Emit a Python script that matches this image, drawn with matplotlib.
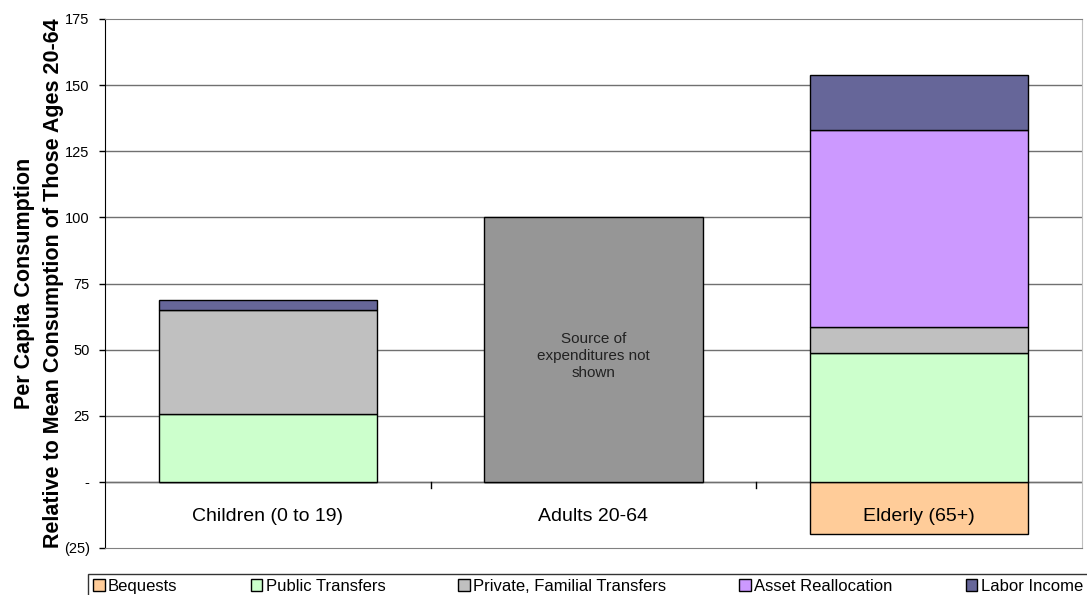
import numpy as np
import matplotlib
matplotlib.use("Agg")
from matplotlib import pyplot as plt
from matplotlib.patches import Patch

plt.rcParams['font.family'] = ['Liberation Sans', 'DejaVu Sans']

# Data (per capita consumption relative to mean consumption of ages 20-64)
groups = ["Children (0 to 19)", "Adults 20-64", "Elderly (65+)"]
series = ["Bequests", "Public Transfers", "Private, Familial Transfers",
          "Asset Reallocation", "Labor Income"]
bequests = [0, 0, -19.7]
public = [25.8, 0, 48.9]
private = [39.0, 0, 9.8]
assets = [0, 0, 74.3]
labor = [4.1, 0, 20.8]
adults_total = [0, 100, 0]

colors = ['#FFCC99', '#CCFFCC', '#C0C0C0', '#CC99FF', '#666699']
yticks = [-25, 0, 25, 50, 75, 100, 125, 150, 175]
yticklabels = ["(25)", "-", "25", "50", "75", "100", "125", "150", "175"]

fig = plt.figure(figsize=(10.87, 5.95), dpi=100)
ax = fig.add_axes([105 / 1087, 1 - 548 / 595, 977 / 1087, 529 / 595])

x = np.arange(len(groups))
w = 0.67
ec = '#000000'

for yt in yticks[1:-1]:
    ax.axhline(yt, color='#707070', linewidth=1.0, zorder=0)
ax.axhline(0, color='#707070', linewidth=1.0, zorder=0)

ax.bar(x, bequests, w, color=colors[0], edgecolor=ec, linewidth=1.0, zorder=2)
bottom = np.zeros(3)
for vals, c in [(public, colors[1]), (private, colors[2]), (assets, colors[3]), (labor, colors[4])]:
    vals = np.array(vals)
    mask = vals > 0
    ax.bar(x[mask], vals[mask], w, bottom=bottom[mask], color=c, edgecolor=ec,
           linewidth=1.0, zorder=2)
    bottom += vals
ax.bar(x[1], adults_total[1], w, color='#969696', edgecolor=ec, linewidth=1.0, zorder=2)
ax.text(x[1], 47.5, "Source of\nexpenditures not\nshown", ha='center', va='center',
        fontsize=11, color='#222222', linespacing=1.25, zorder=3)

for xi, g in zip(x, groups):
    ax.text(xi, -13, g, ha='center', va='center', fontsize=14, color='#000000', zorder=3)

# category separators on zero line
for sep in [0.5, 1.5]:
    ax.plot([sep, sep], [0, -2.5], color='#000000', linewidth=1.0, zorder=1)

ax.set_xlim(-0.5, 2.5)
ax.set_ylim(-25, 175)
ax.set_xticks([])
ax.set_yticks(yticks)
ax.set_yticklabels(yticklabels, fontsize=10.5)
ax.tick_params(axis='y', length=4, width=1, direction='out', pad=7)

ax.spines['left'].set_color('#000000')
ax.spines['bottom'].set_color('#808080')
ax.spines['top'].set_color('#808080')
ax.spines['right'].set_color('#C0C0C0')

ax.set_ylabel("Per Capita Consumption\nRelative to Mean Consumption of Those Ages 20-64",
              fontsize=15.5, fontweight='bold', labelpad=0, linespacing=1.5)

handles = [Patch(facecolor=c, edgecolor='#000000', linewidth=1.0) for c in colors]
leg = fig.legend(handles, series, loc='lower left',
                 bbox_to_anchor=(88 / 1087, -4 / 595, 1000 / 1087, 28 / 595),
                 mode='expand', ncol=5, fontsize=12, frameon=True, fancybox=False,
                 handlelength=0.7, handleheight=0.7, handletextpad=0.2,
                 borderaxespad=0, borderpad=0.3, columnspacing=1.0)
leg.get_frame().set_edgecolor('#000000')
leg.get_frame().set_linewidth(1.0)

plt.savefig("out.png", dpi=100)
